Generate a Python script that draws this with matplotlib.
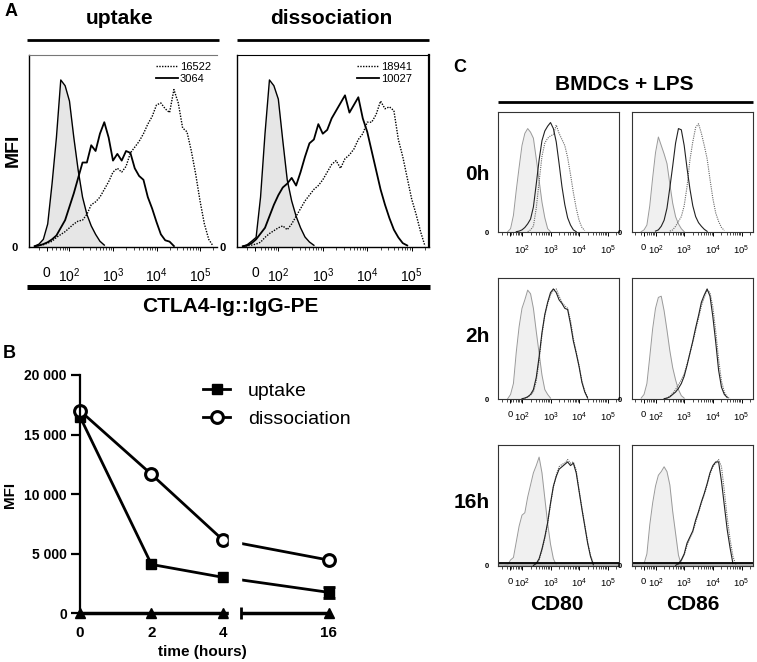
import matplotlib
import numpy as np
import matplotlib.pyplot as plt
from matplotlib.lines import Line2D
from matplotlib.patches import Rectangle

matplotlib.use('Agg')

plt.rcParams['font.family'] = ['Liberation Sans', 'DejaVu Sans']
plt.rcParams['mathtext.fontset'] = 'custom'
plt.rcParams['mathtext.rm'] = 'Liberation Sans'
plt.rcParams['mathtext.bf'] = 'Liberation Sans:bold'

W, H = 757, 662

# ---------------- panel A: histograms, x in log decades, y as fraction of the box
a_decades = np.round(np.arange(1.1, 5.36, 0.1), 2)

up_ctrl = (1.2, [0.005, 0.015, 0.04, 0.12, 0.33, 0.57, 0.87, 0.84, 0.76, 0.57, 0.40,
                 0.26, 0.17, 0.11, 0.066, 0.03, 0.01])
up_after = (1.2, [0.003, 0.008, 0.015, 0.025, 0.04, 0.06, 0.10, 0.14, 0.21, 0.28, 0.36,
                  0.44, 0.44, 0.53, 0.50, 0.59, 0.65, 0.57, 0.45, 0.485, 0.45, 0.50,
                  0.49, 0.41, 0.37, 0.35, 0.26, 0.20, 0.13, 0.066, 0.035, 0.028, 0.005])
up_before = (1.2, [0.003, 0.008, 0.012, 0.02, 0.03, 0.05, 0.065, 0.08, 0.10, 0.12, 0.135,
                   0.14, 0.17, 0.22, 0.235, 0.26, 0.30, 0.34, 0.39, 0.41, 0.39, 0.42,
                   0.49, 0.52, 0.55, 0.59, 0.64, 0.68, 0.74, 0.75, 0.72, 0.70, 0.82,
                   0.75, 0.62, 0.60, 0.50, 0.38, 0.24, 0.12, 0.04, 0.005])
up_labels = ['16522', '3064']

dis_ctrl = (1.2, [0.004, 0.012, 0.03, 0.05, 0.26, 0.59, 0.87, 0.84, 0.77, 0.555, 0.35,
                  0.24, 0.16, 0.10, 0.052, 0.026, 0.009])
dis_after = (1.2, [0.003, 0.008, 0.02, 0.04, 0.07, 0.10, 0.16, 0.22, 0.27, 0.31, 0.33,
                   0.36, 0.32, 0.39, 0.47, 0.54, 0.56, 0.64, 0.59, 0.61, 0.67, 0.71,
                   0.75, 0.79, 0.70, 0.74, 0.78, 0.67, 0.60, 0.50, 0.40, 0.30, 0.22,
                   0.15, 0.09, 0.05, 0.02, 0.008])
dis_before = (1.2, [0.003, 0.006, 0.01, 0.015, 0.025, 0.05, 0.07, 0.085, 0.10, 0.11, 0.09,
                    0.12, 0.16, 0.20, 0.24, 0.27, 0.30, 0.32, 0.35, 0.39, 0.43, 0.45,
                    0.41, 0.46, 0.48, 0.51, 0.56, 0.59, 0.65, 0.65, 0.69, 0.76, 0.72,
                    0.73, 0.71, 0.56, 0.47, 0.36, 0.25, 0.17, 0.08, 0.005])
dis_labels = ['18941', '10027']

# ---------------- panel B: MFI over time
times = [0, 2, 4, 16]
uptake_mfi = [16500, 4100, 3020, 1760]
uptake_err = [0, 0, 0, 480]
dissoc_mfi = [17000, 11660, 6150, 4470]
control_mfi = [0, 0, 0, 0]
mfi_ticks = [0, 5000, 10000, 15000, 20000]

# ---------------- panel C: CD80 / CD86 on BMDCs + LPS
c_decades = np.round(np.arange(1.2, 5.41, 0.1), 2)
c_rows = ['0h', '2h', '16h']
c_cols = ['CD80', 'CD86']

cd80_ctrl = [
    (1.5, [0.005, 0.03, 0.14, 0.35, 0.54, 0.72, 0.82, 0.86, 0.83, 0.78, 0.61, 0.43, 0.25, 0.12, 0.03, 0.005]),
    (1.5, [0.005, 0.04, 0.13, 0.39, 0.60, 0.75, 0.82, 0.90, 0.87, 0.75, 0.56, 0.38, 0.20, 0.08, 0.04, 0.01]),
    (1.4, [0.005, 0.01, 0.05, 0.07, 0.20, 0.33, 0.42, 0.44, 0.57, 0.67, 0.77, 0.83, 0.90, 0.77, 0.56, 0.35, 0.18, 0.06, 0.01]),
]
cd80_solid = [
    (1.8, [0.005, 0.01, 0.02, 0.04, 0.07, 0.11, 0.21, 0.40, 0.60, 0.76, 0.84, 0.88, 0.91, 0.86, 0.75, 0.57, 0.38, 0.23, 0.12, 0.06, 0.02, 0.005]),
    (2.0, [0.005, 0.01, 0.02, 0.04, 0.08, 0.18, 0.35, 0.55, 0.70, 0.80, 0.88, 0.91, 0.88, 0.82, 0.79, 0.75, 0.74, 0.62, 0.48, 0.38, 0.27, 0.14, 0.06, 0.01]),
    (2.4, [0.005, 0.02, 0.06, 0.14, 0.24, 0.36, 0.52, 0.66, 0.74, 0.80, 0.82, 0.84, 0.86, 0.83, 0.85, 0.77, 0.62, 0.47, 0.33, 0.19, 0.08, 0.01]),
]
cd80_dotted = [
    (2.2, [0.005, 0.02, 0.05, 0.20, 0.42, 0.63, 0.74, 0.78, 0.80, 0.81, 0.89, 0.82, 0.77, 0.72, 0.62, 0.48, 0.33, 0.20, 0.10, 0.04, 0.015]),
    (2.1, [0.01, 0.02, 0.035, 0.06, 0.15, 0.32, 0.53, 0.69, 0.79, 0.86, 0.90, 0.91, 0.85, 0.80, 0.77, 0.75, 0.65, 0.50, 0.39, 0.28, 0.15, 0.07, 0.015]),
    (2.5, [0.02, 0.05, 0.13, 0.23, 0.35, 0.51, 0.65, 0.75, 0.82, 0.84, 0.85, 0.88, 0.85, 0.86, 0.79, 0.63, 0.48, 0.34, 0.20, 0.09, 0.02]),
]
cd86_ctrl = [
    (1.5, [0.005, 0.02, 0.06, 0.22, 0.45, 0.66, 0.79, 0.72, 0.65, 0.57, 0.40, 0.24, 0.13, 0.07, 0.03, 0.005]),
    (1.5, [0.01, 0.04, 0.13, 0.35, 0.58, 0.75, 0.84, 0.85, 0.73, 0.57, 0.40, 0.26, 0.16, 0.08, 0.03, 0.01]),
    (1.6, [0.02, 0.10, 0.34, 0.52, 0.66, 0.75, 0.78, 0.82, 0.78, 0.67, 0.45, 0.27, 0.09, 0.01]),
]
cd86_solid = [
    (2.0, [0.01, 0.02, 0.05, 0.10, 0.20, 0.37, 0.55, 0.74, 0.86, 0.85, 0.72, 0.53, 0.36, 0.22, 0.13, 0.08, 0.05, 0.025, 0.008]),
    (2.3, [0.005, 0.01, 0.02, 0.04, 0.06, 0.09, 0.13, 0.19, 0.28, 0.38, 0.48, 0.59, 0.69, 0.80, 0.86, 0.91, 0.85, 0.68, 0.47, 0.24, 0.10, 0.04, 0.015]),
    (2.7, [0.005, 0.02, 0.05, 0.10, 0.19, 0.24, 0.29, 0.38, 0.45, 0.53, 0.60, 0.68, 0.77, 0.83, 0.86, 0.86, 0.70, 0.50, 0.30, 0.15, 0.02]),
]
cd86_dotted = [
    (2.5, [0.01, 0.02, 0.05, 0.09, 0.13, 0.22, 0.38, 0.60, 0.75, 0.87, 0.90, 0.82, 0.72, 0.61, 0.44, 0.28, 0.16, 0.09, 0.04, 0.015]),
    (2.3, [0.005, 0.01, 0.025, 0.05, 0.08, 0.12, 0.16, 0.21, 0.29, 0.38, 0.47, 0.57, 0.67, 0.77, 0.84, 0.90, 0.88, 0.76, 0.56, 0.33, 0.15, 0.06, 0.02, 0.005]),
    (2.8, [0.01, 0.04, 0.09, 0.17, 0.23, 0.28, 0.36, 0.44, 0.52, 0.59, 0.67, 0.76, 0.82, 0.85, 0.88, 0.82, 0.62, 0.40, 0.22, 0.08, 0.01]),
]


def on_grid(grid, trace):
    start, vals = trace
    y = np.full(len(grid), np.nan)
    i = int(round((start - grid[0]) / 0.1))
    y[i:i + len(vals)] = vals
    return y


def px_rect(x0, y0, x1, y1):
    return [x0 / W, 1 - y1 / H, (x1 - x0) / W, (y1 - y0) / H]


def fig_line(fig, x0, x1, y, lw):
    fig.add_artist(Line2D([x0 / W, x1 / W], [1 - y / H] * 2, color='k', lw=lw,
                          transform=fig.transFigure, solid_capstyle='butt'))


def hist_axes(fig, rect, xlim, zero_at, show_zero, size, pad, ypad, zero_size):
    ax = fig.add_axes(rect)
    ax.set_xlim(*xlim)
    ax.set_ylim(0, 1)
    ticks = [zero_at, 2, 3, 4, 5]
    labels = ['0', r'$\mathregular{10^2}$', r'$\mathregular{10^3}$',
              r'$\mathregular{10^4}$', r'$\mathregular{10^5}$']
    if not show_zero:
        labels[0] = ''
    ax.set_xticks(ticks)
    ax.set_xticklabels(labels, fontsize=size)
    minor = [d + np.log10(k) for d in (1, 2, 3, 4, 5) for k in range(2, 10)]
    minor = [m for m in minor if xlim[0] < m < xlim[1] and m > 1.25]
    ax.set_xticks(minor, minor=True)
    ax.tick_params(axis='x', which='major', direction='out', length=3, width=0.7, pad=pad)
    ax.tick_params(axis='x', which='minor', direction='out', length=1.8, width=0.5)
    ax.set_yticks([0])
    ax.set_yticklabels(['0'], fontsize=zero_size, fontweight='bold')
    ax.tick_params(axis='y', length=0, pad=ypad)
    return ax


fig = plt.figure(figsize=(W / 100, H / 100), dpi=100)

# ================= panel A
a_boxes = [(29, 55, 217, 247), (237, 55, 429, 247)]
a_sets = [(up_ctrl, up_after, up_before, up_labels, 211),
          (dis_ctrl, dis_after, dis_before, dis_labels, 412)]
for box, (ctrl, after, before, labels, leg_x) in zip(a_boxes, a_sets):
    ax = hist_axes(fig, px_rect(*box), (1.07, 5.39), 1.48, True, 10, 11, 8, 8)
    yc = on_grid(a_decades, ctrl)
    ax.fill_between(a_decades, np.nan_to_num(yc), 0, color='#e6e6e6', lw=0)
    ax.plot(a_decades, yc, color='k', lw=1.0)
    dl, = ax.plot(a_decades, on_grid(a_decades, before), color='k', lw=1.0,
                  ls=(0, (1, 1)))
    sl, = ax.plot(a_decades, on_grid(a_decades, after), color='k', lw=1.3)
    ax.legend([dl, sl], labels, loc='upper right', fontsize=8, frameon=False,
              bbox_to_anchor=(leg_x / W, 1 - 62 / H), bbox_transform=fig.transFigure,
              handlelength=2.0, handletextpad=0.15, labelspacing=0.15,
              borderpad=0, borderaxespad=0)
    for s in ax.spines.values():
        s.set_linewidth(1.0)
    if box[0] == 29:
        ax.spines['right'].set_visible(False)
        ax.spines['top'].set_color('#777')
        ax.spines['top'].set_linewidth(0.8)
    else:
        ax.spines['top'].set_linewidth(0.8)
        ax.spines['right'].set_linewidth(1.6)

fig.text(11 / W, 1 - 12 / H, 'A', fontsize=13, weight='bold', ha='center', va='center')
fig.text(120 / W, 1 - 18 / H, 'uptake', fontsize=15, weight='bold', ha='center', va='center')
fig.text(331 / W, 1 - 18 / H, 'dissociation', fontsize=15, weight='bold', ha='center', va='center')
fig_line(fig, 27, 219, 39.5, 2.0)
fig_line(fig, 237, 429, 39.5, 2.0)
fig.text(13 / W, 1 - 150 / H, 'MFI', fontsize=14, weight='bold', rotation=90,
         ha='center', va='center')
fig_line(fig, 27, 430, 286.5, 3.6)
fig.text(230 / W, 1 - 306 / H, 'CTLA4-Ig::IgG-PE', fontsize=15, weight='bold',
         ha='center', va='center')

# ================= panel B
k = (6.955 - 4) / 12


def fwd(t):
    t = np.asarray(t, dtype=float)
    return np.where(t <= 4, t, 4 + (t - 4) * k)


def inv(u):
    u = np.asarray(u, dtype=float)
    return np.where(u <= 4, u, 4 + (u - 4) / k)


axB = fig.add_axes(px_rect(80, 375, 340, 613.3))
axB.set_xscale('function', functions=(fwd, inv))
axB.set_xlim(0, 17.3)
axB.set_ylim(0, 20000)
for side in ('top', 'right', 'bottom'):
    axB.spines[side].set_visible(False)
axB.spines['left'].set_linewidth(1.6)

axB.plot(times, control_mfi, '-^', color='k', lw=2.5, ms=7, clip_on=False, zorder=2)
h_up, = axB.plot(times, uptake_mfi, '-s', color='k', lw=2, ms=7.5, clip_on=False,
                 zorder=2, label='uptake')
axB.errorbar(times, uptake_mfi, yerr=uptake_err, fmt='none', ecolor='k', elinewidth=2,
             capsize=4, capthick=2, errorevery=(3, 1), zorder=2)
h_dis, = axB.plot(times, dissoc_mfi, '-o', color='k', lw=2, ms=8.5, mfc='white',
                  mec='k', mew=2.2, clip_on=False, zorder=2, label='dissociation')
# axis break between 4 and 16 h
gap = (4.72, 6.02)
axB.add_patch(Rectangle((gap[0], -0.05), gap[1] - gap[0], 1.1,
                        transform=axB.get_xaxis_transform(), color='white',
                        zorder=3, clip_on=False))
axB.plot([gap[1]], [0], marker='|', color='k', ms=9, mew=2, clip_on=False, zorder=4)

axB.set_yticks(mfi_ticks)
axB.set_yticklabels([f'{v:,}'.replace(',', ' ') for v in mfi_ticks],
                    fontsize=10, fontweight='bold')
axB.tick_params(axis='y', direction='out', length=6.5, width=1.6, pad=3)
axB.set_xticks(times)
axB.set_xticklabels([str(t) for t in times], fontsize=11, fontweight='bold')
axB.xaxis.set_minor_locator(matplotlib.ticker.NullLocator())
axB.tick_params(axis='x', length=0, pad=9)
axB.legend(handles=[h_up, h_dis], loc='upper left', fontsize=14, frameon=False,
           bbox_to_anchor=(203 / W, 1 - 382 / H), bbox_transform=fig.transFigure,
           handlelength=1.4, handletextpad=0.9, labelspacing=0.55,
           borderpad=0, borderaxespad=0)

fig.text(9 / W, 1 - 354 / H, 'B', fontsize=13, weight='bold', ha='center', va='center')
fig.text(10 / W, 1 - 495 / H, 'MFI', fontsize=11, weight='bold', rotation=90,
         ha='center', va='center')
fig.text(202 / W, 1 - 651.7 / H, 'time (hours)', fontsize=11, weight='bold',
         ha='center', va='center')

# ================= panel C
c_x = [(498.3, 619.3), (631.7, 753.3)]
c_y = [(111.7, 232.3), (278, 399.3), (445, 566)]
c_sets = [(cd80_ctrl, cd80_solid, cd80_dotted), (cd86_ctrl, cd86_solid, cd86_dotted)]
for r in range(3):
    for c in range(2):
        ctrl, solid, dotted = (s[r] for s in c_sets[c])
        ax = hist_axes(fig, px_rect(c_x[c][0], c_y[r][0], c_x[c][1], c_y[r][1]),
                       (1.17, 5.41), 1.59, not (r == 0 and c == 0), 6.8, 5, 7, 5.5)
        yc = on_grid(c_decades, ctrl)
        ax.fill_between(c_decades, np.nan_to_num(yc), 0, color='#f0f0f0', lw=0)
        ax.plot(c_decades, yc, color='#9a9a9a', lw=0.7)
        ax.plot(c_decades, on_grid(c_decades, dotted), color='#666', lw=0.8,
                ls=(0, (1, 1)))
        ax.plot(c_decades, on_grid(c_decades, solid), color='#222', lw=0.8)
        if r == 2:
            ax.axhspan(0, 0.025, color='#b0b0b0', lw=0)
            ax.axhline(0.028, color='k', lw=1.3)
        for s in ax.spines.values():
            s.set_linewidth(0.8)
            s.set_color('#333')

fig.text(460 / W, 1 - 67 / H, 'C', fontsize=13, weight='bold', ha='center', va='center')
fig.text(624 / W, 1 - 85 / H, 'BMDCs + LPS', fontsize=15, weight='bold',
         ha='center', va='center')
fig_line(fig, 498, 753, 101.7, 2.0)
for lab, y in zip(c_rows, (175, 337, 502)):
    fig.text(490 / W, 1 - y / H, lab, fontsize=15, weight='bold', ha='right', va='center')
for lab, x in zip(c_cols, (557, 692.5)):
    fig.text(x / W, 1 - 605 / H, lab, fontsize=15, weight='bold', ha='center', va='center')

fig.savefig('out.png', dpi=100)
